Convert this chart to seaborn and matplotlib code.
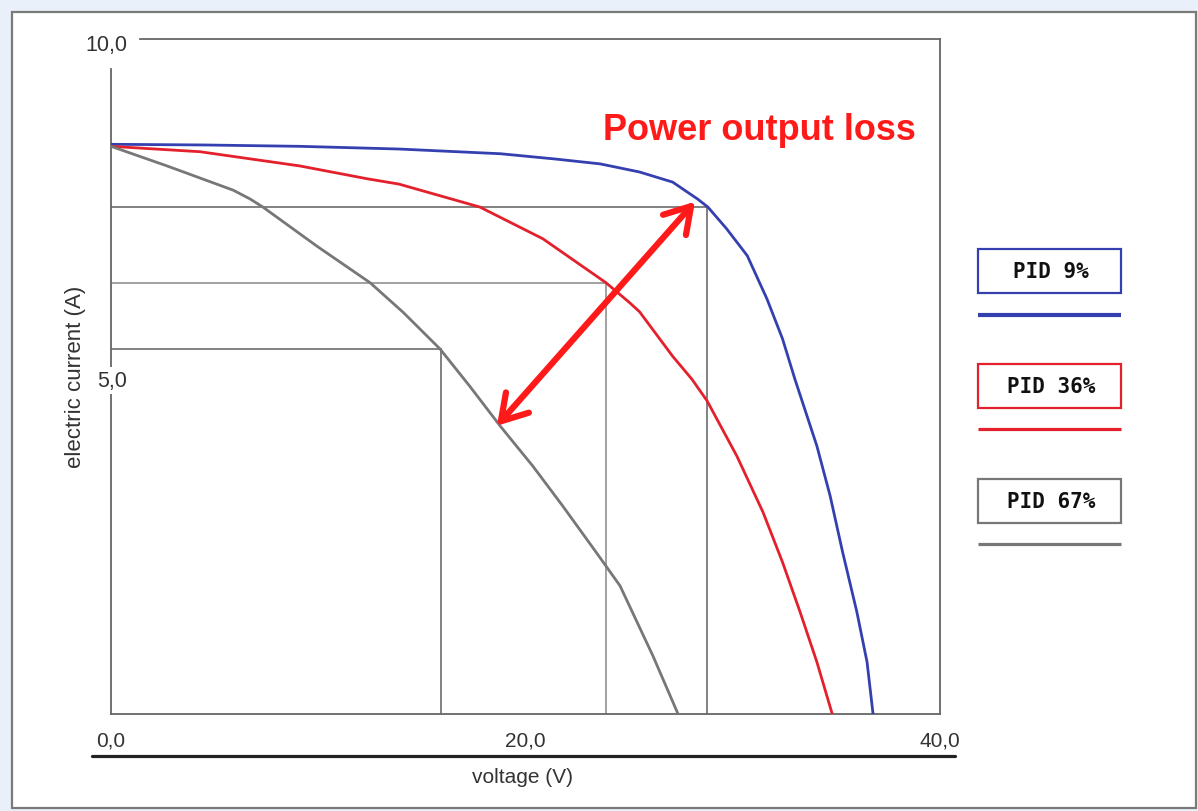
import matplotlib
matplotlib.use("Agg")
import matplotlib.pyplot as plt
from matplotlib.patches import Rectangle, FancyArrowPatch
from matplotlib.lines import Line2D
import seaborn as sns
import pandas as pd

# I-V curves of a PV module at three PID levels (voltage in V, current in A)
blue_v = [0, 4.5, 9.1, 13.9, 18.8, 21.5, 23.6, 25.5, 27.1, 28.3, 28.8, 29.7,
          30.7, 31.65, 32.4, 33.0, 34.06, 34.7, 35.3, 35.99, 36.48, 36.77]
blue_i = [8.44, 8.43, 8.41, 8.37, 8.30, 8.22, 8.15, 8.03, 7.88, 7.63, 7.51, 7.19,
          6.79, 6.15, 5.56, 4.96, 3.97, 3.23, 2.40, 1.51, 0.77, 0.0]

red_v = [0, 4.3, 9.1, 12.35, 13.9, 17.8, 20.84, 23.88, 25.0, 25.5, 27.1, 28.03,
         28.76, 30.2, 31.46, 32.4, 33.25, 34.06, 34.8]
red_i = [8.41, 8.33, 8.12, 7.93, 7.85, 7.51, 7.04, 6.39, 6.10, 5.96, 5.30, 4.96,
         4.64, 3.82, 2.99, 2.25, 1.51, 0.77, 0.0]

gray_v = [0, 2.7, 5.9, 6.71, 7.33, 9.94, 12.5, 14.1, 15.87, 17.3, 18.77, 20.36,
          21.8, 23.4, 24.56, 26.15, 27.36]
gray_i = [8.41, 8.12, 7.76, 7.63, 7.51, 6.93, 6.39, 5.95, 5.41, 4.86, 4.27, 3.67,
          3.08, 2.40, 1.90, 0.86, 0.0]

# maximum power points (voltage, current)
mpp_v = [28.76, 23.88, 15.92]
mpp_i = [7.51, 6.39, 5.41]

series_names = ["PID 9%", "PID 36%", "PID 67%"]
series_colors = ["#3540b0", "#e3202b", "#777777"]

x_ticks = [0, 20, 40]
x_tick_labels = ["0,0", "20,0", "40,0"]
y_tick_labels = {10: "10,0", 5: "5,0"}

sns.set_style("white")
plt.rcParams["font.family"] = ["Liberation Sans", "DejaVu Sans"]

W, H = 1198, 812
fig = plt.figure(figsize=(W / 100, H / 100), dpi=100)
fig.patch.set_facecolor("#eaf0f9")


def fx(px):
    return px / W


def fy(py):
    return (H - py) / H


# white panel with grey frame
fig.add_artist(Rectangle((fx(12), fy(809)), fx(1196) - fx(12), fy(13) - fy(809),
                         transform=fig.transFigure, facecolor="white",
                         edgecolor="#7a7a7a", lw=1.6, zorder=-5))

ax = fig.add_axes([fx(111), fy(715), fx(940) - fx(111), fy(40) - fy(715)])
ax.set_facecolor("none")
ax.set_xlim(0, 40)
ax.set_ylim(0, 10)

frames = []
for v, i, name in zip([blue_v, red_v, gray_v], [blue_i, red_i, gray_i], series_names):
    frames.append(pd.DataFrame({"voltage": v, "current": i, "series": name}))
df = pd.concat(frames, ignore_index=True)

# guide lines to the maximum power points
guide_colors = ["#777777", "#9a9a9a", "#777777"]
for v, i, gc in zip(mpp_v, mpp_i, guide_colors):
    ax.plot([0, v], [i, i], color=gc, lw=1.3, zorder=1)
    ax.plot([v, v], [i, 0], color=gc, lw=1.3, zorder=1)

sns.lineplot(data=df, x="voltage", y="current", hue="series",
             palette=dict(zip(series_names, series_colors)),
             sort=False, estimator=None, lw=2.0, legend=False, ax=ax, zorder=3)
for ln in ax.lines:
    ln.set_solid_joinstyle("round")

# frame
for s in ax.spines.values():
    s.set_color("#666666")
    s.set_linewidth(1.3)
    s.set_visible(True)
ax.spines["left"].set_bounds(0, 9.556)
ax.spines["top"].set_bounds(1.4, 40)

ax.set_xticks(x_ticks, labels=x_tick_labels)
ax.tick_params(axis="x", length=0, pad=12, labelsize=15, labelcolor="#333333")
ax.set_yticks([])

ax.annotate(y_tick_labels[10], xy=(0, 10), xytext=(-5, -5), textcoords="offset pixels",
            ha="center", va="center", fontsize=15.5, color="#333333",
            annotation_clip=False)
ax.annotate(y_tick_labels[5], xy=(0, 5), xytext=(1, -4), textcoords="offset pixels",
            ha="center", va="center", fontsize=15.5, color="#333333",
            bbox=dict(boxstyle="square,pad=0.15", fc="white", ec="none"),
            annotation_clip=False)

ax.set_xlabel("voltage (V)", fontsize=15, color="#333333")
ax.xaxis.label.set_va("center")
ax.xaxis.set_label_coords((523 - 111) / 829, (715 - 778) / 675)
ax.set_ylabel("electric current (A)", fontsize=16, color="#333333")
ax.yaxis.label.set_va("center")
ax.yaxis.set_label_coords((75 - 111) / 829, (715 - 377) / 675)

# heavy rule above the axis title
fig.add_artist(Line2D([fx(92), fx(955)], [fy(757), fy(757)], transform=fig.transFigure,
                      color="#222222", lw=2.3))

# power loss annotation
arrow = FancyArrowPatch((18.62, 4.27), (28.18, 7.59),
                        arrowstyle="<->,head_length=0.9,head_width=0.55",
                        mutation_scale=20, color="#ff1a1a", lw=4.5, zorder=5,
                        shrinkA=0, shrinkB=0, capstyle="round", joinstyle="round")
ax.add_patch(arrow)
fig.text(fx(759), fy(140), "Power output loss", ha="center", va="baseline",
         fontsize=26, fontweight="bold", color="#ff1a1a")

# legend boxes with line samples
box_tops = [250, 365, 480]
line_ys = [316, 430, 545]
line_ws = [3.0, 2.3, 2.3]
for name, col, top, ly, lw in zip(series_names, series_colors, box_tops, line_ys, line_ws):
    fig.add_artist(Rectangle((fx(978), fy(top + 44)), fx(1121) - fx(978), fy(top) - fy(top + 44),
                             transform=fig.transFigure, facecolor="white",
                             edgecolor=col, lw=1.6))
    fig.text(fx(1051), fy(top + 22), name, ha="center", va="center",
             fontsize=15, fontweight="bold", family="DejaVu Sans Mono", color="#111111")
    fig.add_artist(Line2D([fx(978), fx(1121)], [fy(ly), fy(ly)], transform=fig.transFigure,
                          color=col, lw=lw, solid_capstyle="butt"))

fig.savefig("out.png", dpi=100, facecolor=fig.get_facecolor())
